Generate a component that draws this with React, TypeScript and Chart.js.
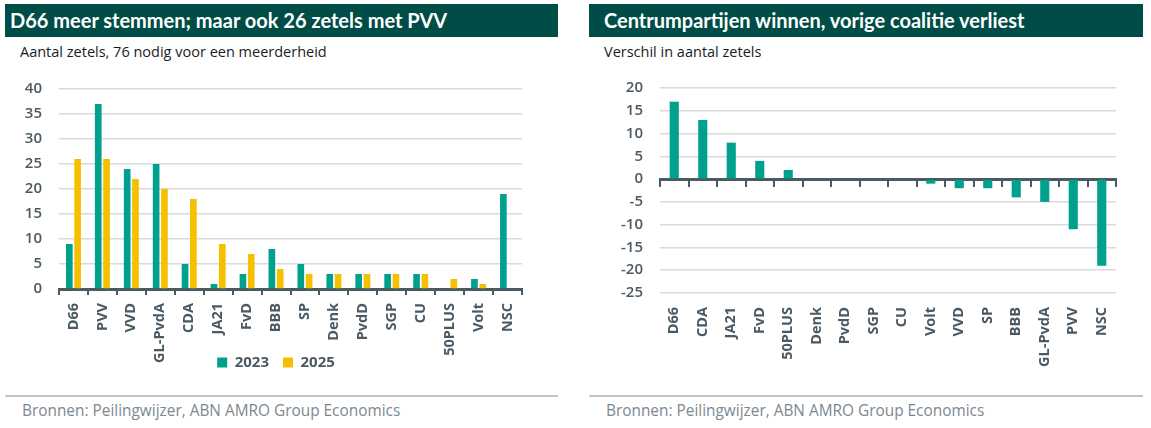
import React, { useEffect, useRef } from 'react';
import { Chart, registerables } from 'chart.js';

Chart.register(...registerables);

// ---- data ----
const parties = ['D66', 'PVV', 'VVD', 'GL-PvdA', 'CDA', 'JA21', 'FvD', 'BBB', 'SP', 'Denk', 'PvdD', 'SGP', 'CU', '50PLUS', 'Volt', 'NSC'];
const seats2023 = [9, 37, 24, 25, 5, 1, 3, 8, 5, 3, 3, 3, 3, 0, 2, 19];
const seats2025 = [26, 26, 22, 20, 18, 9, 7, 4, 3, 3, 3, 3, 3, 2, 1, 0];
const diffParties = ['D66', 'CDA', 'JA21', 'FvD', '50PLUS', 'Denk', 'PvdD', 'SGP', 'CU', 'Volt', 'VVD', 'SP', 'BBB', 'GL-PvdA', 'PVV', 'NSC'];
const diffSeats = [17, 13, 8, 4, 2, 0, 0, 0, 0, -1, -2, -2, -4, -5, -11, -19];
const seriesNames = ['2023', '2025'];

const TEAL = '#00a08e';
const YELLOW = '#f5c000';
const AXIS = '#4b5963';
const GRID = '#dadada';
const HEADER = '#004d47';
const FONT = "'Open Sans', sans-serif";

// lets the rotated tick labels run past the (shortened) x axis box, and nudges the legend
const leftLayoutFix = {
  id: 'leftLayoutFix',
  afterLayout(chart: any) {
    if (chart.scales.x) chart.scales.x.bottom = chart.height;
    if (chart.legend) {
      chart.legend.left += 15;
      chart.legend.right += 15;
    }
  },
};

function LeftChart() {
  const ref = useRef<HTMLCanvasElement | null>(null);
  useEffect(() => {
    if (!ref.current) return;
    const chart = new Chart(ref.current, {
      type: 'bar',
      data: {
        labels: parties,
        datasets: [
          { label: seriesNames[0], data: seats2023, backgroundColor: TEAL, categoryPercentage: 0.575, barPercentage: 0.8 },
          { label: seriesNames[1], data: seats2025, backgroundColor: YELLOW, categoryPercentage: 0.575, barPercentage: 0.8 },
        ],
      },
      options: {
        animation: false,
        responsive: false,
        maintainAspectRatio: false,
        layout: { padding: { top: 27, right: 31, left: 0, bottom: 0 } },
        plugins: {
          tooltip: { enabled: false },
          legend: {
            position: 'bottom',
            labels: {
              boxWidth: 10,
              boxHeight: 10,
              padding: 14,
              color: AXIS,
              font: { family: FONT, size: 15, weight: 'bold' },
            },
          },
        },
        scales: {
          x: {
            afterFit: (s: any) => { s.height = 52; },
            grid: { display: true, drawOnChartArea: false, drawTicks: true, tickLength: 6, color: AXIS, lineWidth: 2, offset: true },
            border: { display: true, color: AXIS, width: 3 },
            ticks: {
              autoSkip: false,
              minRotation: 90,
              maxRotation: 90,
              padding: 8,
              color: AXIS,
              font: { family: FONT, size: 14.5, weight: 'bold' },
            },
          },
          y: {
            min: 0,
            max: 40,
            afterFit: (s: any) => { s.width = 59; },
            grid: { color: GRID, lineWidth: 1.5, drawTicks: false },
            border: { display: false },
            ticks: {
              stepSize: 5,
              padding: 17,
              color: AXIS,
              font: { family: FONT, size: 15, weight: 600 },
            },
          },
        },
      } as any,
      plugins: [leftLayoutFix],
    });
    return () => chart.destroy();
  }, []);
  return <canvas ref={ref} width={553} height={318} style={{ position: 'absolute', left: 0, top: 62, width: 553, height: 318 }} />;
}

function RightChart() {
  const ref = useRef<HTMLCanvasElement | null>(null);
  useEffect(() => {
    if (!ref.current) return;
    const chart = new Chart(ref.current, {
      type: 'bar',
      data: {
        labels: diffParties,
        datasets: [
          { label: 'Verschil', data: diffSeats, backgroundColor: TEAL, categoryPercentage: 1, barPercentage: 0.32 },
        ],
      },
      options: {
        animation: false,
        responsive: false,
        maintainAspectRatio: false,
        layout: { padding: { top: 24, right: 27, left: 0, bottom: 0 } },
        plugins: { tooltip: { enabled: false }, legend: { display: false } },
        scales: {
          x: {
            afterFit: (s: any) => { s.height = 89; },
            grid: { display: false, drawTicks: false },
            border: { display: false },
            ticks: {
              autoSkip: false,
              minRotation: 90,
              maxRotation: 90,
              padding: 14,
              color: AXIS,
              font: { family: FONT, size: 14.5, weight: 'bold' },
            },
          },
          x2: {
            type: 'category',
            axis: 'x',
            labels: diffParties,
            position: { y: 0 },
            grid: { display: true, drawOnChartArea: false, drawTicks: true, tickLength: 6, color: AXIS, lineWidth: 2, offset: true },
            border: { display: true, color: AXIS, width: 3 },
            ticks: { display: false },
          },
          y: {
            min: -25,
            max: 20,
            afterFit: (s: any) => { s.width = 71; },
            grid: { color: GRID, lineWidth: 1.5, drawTicks: false },
            border: { display: false },
            ticks: {
              stepSize: 5,
              padding: 17,
              color: AXIS,
              font: { family: FONT, size: 15, weight: 600 },
            },
          },
        },
      } as any,
    });
    return () => chart.destroy();
  }, []);
  return <canvas ref={ref} width={554} height={320} style={{ position: 'absolute', left: 589, top: 62, width: 554, height: 320 }} />;
}

const headerStyle = (left: number, width: number, padLeft: number): React.CSSProperties => ({
  position: 'absolute',
  left,
  top: 4,
  width: width - padLeft,
  height: 33,
  paddingLeft: padLeft,
  background: HEADER,
  color: '#ffffff',
  fontFamily: "Lato, 'Open Sans', sans-serif",
  fontWeight: 700,
  fontSize: 20,
  lineHeight: '33px',
  whiteSpace: 'nowrap',
});

const subStyle = (left: number): React.CSSProperties => ({
  position: 'absolute',
  left,
  top: 42,
  fontFamily: FONT,
  fontSize: 14.5,
  lineHeight: '20px',
  color: '#1c1c1c',
  whiteSpace: 'nowrap',
});

const lineStyle = (left: number, width: number): React.CSSProperties => ({
  position: 'absolute',
  left,
  top: 395,
  width,
  height: 2,
  background: '#c4c4c4',
});

const footStyle = (left: number): React.CSSProperties => ({
  position: 'absolute',
  left,
  top: 401,
  fontFamily: FONT,
  fontSize: 15.4,
  lineHeight: '20px',
  color: '#7d8891',
  whiteSpace: 'nowrap',
});

export default function App() {
  return (
    <div style={{ position: 'absolute', left: 0, top: 0, width: 1151, height: 428, background: '#ffffff', overflow: 'hidden' }}>
      <div style={headerStyle(5, 553, 5)}>D66 meer stemmen; maar ook 26 zetels met PVV</div>
      <div style={subStyle(20)}>Aantal zetels, 76 nodig voor een meerderheid</div>
      <LeftChart />
      <div style={lineStyle(5, 553)} />
      <div style={footStyle(22)}>Bronnen: Peilingwijzer, ABN AMRO Group Economics</div>

      <div style={headerStyle(589, 554, 15)}>Centrumpartijen winnen, vorige coalitie verliest</div>
      <div style={subStyle(604)}>Verschil in aantal zetels</div>
      <RightChart />
      <div style={lineStyle(589, 554)} />
      <div style={footStyle(606)}>Bronnen: Peilingwijzer, ABN AMRO Group Economics</div>
    </div>
  );
}
